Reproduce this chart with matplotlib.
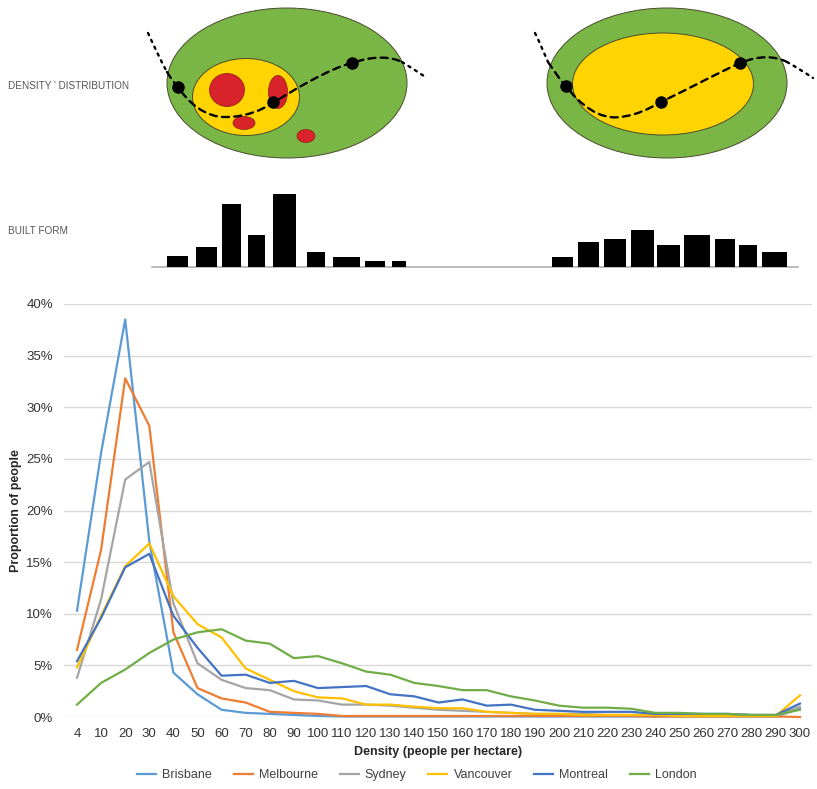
import matplotlib
matplotlib.use("Agg")
import matplotlib.pyplot as plt
from matplotlib.patches import Ellipse
from matplotlib.path import Path
from matplotlib.patches import PathPatch
from matplotlib.ticker import PercentFormatter

plt.rcParams['font.family'] = ['Liberation Sans', 'DejaVu Sans']

# density bins (people per hectare)
density = ['4', '10', '20', '30', '40', '50', '60', '70', '80', '90', '100',
           '110', '120', '130', '140', '150', '160', '170', '180', '190', '200',
           '210', '220', '230', '240', '250', '260', '270', '280', '290', '300']

# proportion of people, %
brisbane = [10.3, 25.6, 38.5, 17.0, 4.3, 2.2, 0.7, 0.4, 0.3, 0.2, 0.1,
            0.05, 0.05, 0.05, 0.05, 0.05, 0.05, 0.05, 0.05, 0.05, 0.05,
            0.05, 0.05, 0.05, 0.05, 0.05, 0.05, 0.05, 0.05, 0.05, 0.8]
melbourne = [6.5, 16.2, 32.8, 28.2, 8.2, 2.8, 1.8, 1.4, 0.5, 0.4, 0.3,
             0.1, 0.1, 0.1, 0.1, 0.1, 0.1, 0.1, 0.1, 0.1, 0.1,
             0.1, 0.1, 0.1, 0.05, 0.05, 0.05, 0.05, 0.05, 0.05, 0.0]
sydney = [3.8, 11.4, 23.0, 24.7, 11.0, 5.2, 3.6, 2.8, 2.6, 1.7, 1.6,
          1.2, 1.2, 1.1, 0.9, 0.7, 0.6, 0.5, 0.4, 0.3, 0.3,
          0.3, 0.2, 0.2, 0.2, 0.2, 0.1, 0.1, 0.1, 0.1, 1.0]
vancouver = [4.8, 9.8, 14.6, 16.8, 11.7, 9.0, 7.7, 4.7, 3.6, 2.5, 1.9,
             1.8, 1.2, 1.2, 1.0, 0.85, 0.85, 0.5, 0.4, 0.3, 0.3,
             0.2, 0.2, 0.2, 0.2, 0.1, 0.1, 0.1, 0.1, 0.1, 2.1]
montreal = [5.4, 9.6, 14.5, 15.8, 9.8, 6.7, 4.0, 4.1, 3.3, 3.5, 2.8,
            2.9, 3.0, 2.2, 2.0, 1.4, 1.7, 1.1, 1.2, 0.7, 0.6,
            0.5, 0.5, 0.5, 0.3, 0.3, 0.3, 0.3, 0.2, 0.2, 1.3]
london = [1.2, 3.3, 4.6, 6.2, 7.5, 8.2, 8.5, 7.4, 7.1, 5.7, 5.9,
          5.2, 4.4, 4.1, 3.3, 3.0, 2.6, 2.6, 2.0, 1.6, 1.1,
          0.9, 0.9, 0.8, 0.4, 0.4, 0.3, 0.3, 0.2, 0.2, 0.7]

cities = ['Brisbane', 'Melbourne', 'Sydney', 'Vancouver', 'Montreal', 'London']
series = [brisbane, melbourne, sydney, vancouver, montreal, london]
colors = ['#5B9BD5', '#ED7D31', '#A5A5A5', '#FFC000', '#4472C4', '#70AD47']

# built form bars of the schematic (pixel units)
left_bar_x = [167, 196, 222, 248, 273, 307, 333, 365, 392]
left_bar_w = [21, 21, 19, 17, 23, 18, 27, 20, 14]
left_bar_h = [11, 20, 63, 32, 73, 15, 10, 6, 6]
right_bar_x = [552, 578, 604, 631, 657, 684, 715, 739, 762]
right_bar_w = [21, 21, 22, 23, 23, 26, 20, 18, 25]
right_bar_h = [10, 25, 28, 37, 22, 32, 28, 22, 15]

W, H = 817, 789
fig = plt.figure(figsize=(W / 100, H / 100), dpi=100)

# schematic, drawn in pixel coordinates
sk = fig.add_axes([0, 0, 1, 1])
sk.set_xlim(0, W)
sk.set_ylim(H, 0)
sk.axis('off')

green = '#7AB646'
yellow = '#FFD400'
red = '#D9232A'
edge = '#4a4a30'

sk.add_patch(Ellipse((287, 83), 240, 150, fc=green, ec=edge, lw=0.7))
sk.add_patch(Ellipse((246, 97), 107, 77, fc=yellow, ec=edge, lw=0.7))
sk.add_patch(Ellipse((227, 90), 35, 33, fc=red, ec='#8a1a1a', lw=0.5))
sk.add_patch(Ellipse((278, 92), 19, 33, fc=red, ec='#8a1a1a', lw=0.5))
sk.add_patch(Ellipse((244, 123), 22, 13, fc=red, ec='#8a1a1a', lw=0.5))
sk.add_patch(Ellipse((306, 136), 18, 13, fc=red, ec='#8a1a1a', lw=0.5))

sk.add_patch(Ellipse((667, 83), 240, 150, fc=green, ec=edge, lw=0.7))
sk.add_patch(Ellipse((663, 84), 181, 102, fc=yellow, ec=edge, lw=0.7))


def curve(verts, style, lw):
    codes = [Path.MOVETO] + [Path.CURVE4] * (len(verts) - 1)
    sk.add_patch(PathPatch(Path(verts, codes), fc='none', ec='black',
                           lw=lw, ls=style, capstyle='round'))


dot_style = (0, (1, 2.2))
dash_style = (0, (3, 2.2))

# left curve
curve([(148, 33), (154, 46), (160, 59), (167, 72)], dot_style, 1.7)
curve([(167, 72), (172, 80), (175, 84), (178, 87),
       (188, 102), (205, 118), (227, 117),
       (245, 117), (262, 110), (273, 103),
       (290, 92), (330, 68), (352, 63),
       (375, 55), (392, 57), (402, 62)], dash_style, 1.7)
curve([(402, 62), (410, 67), (418, 72), (427, 78)], dot_style, 1.7)

# right curve
curve([(535, 33), (540, 43), (544, 53), (548, 62)], dot_style, 1.7)
curve([(548, 62), (555, 72), (560, 80), (566, 86),
       (580, 105), (600, 120), (620, 117),
       (638, 115), (650, 108), (661, 102),
       (690, 88), (720, 72), (740, 63),
       (760, 55), (775, 56), (787, 62)], dash_style, 1.7)
curve([(787, 62), (796, 67), (804, 72), (813, 78)], dot_style, 1.7)

for (cx, cy) in [(178, 87), (273, 102), (352, 63),
                 (566, 86), (661, 102), (740, 63)]:
    sk.plot(cx, cy, 'o', color='black', ms=8, zorder=5)

# built form bars
base = 267
sk.plot([152, 798], [base, base], color='#b0b0b0', lw=1.2, zorder=1)
sk.bar(left_bar_x, [-h for h in left_bar_h], width=left_bar_w, bottom=base,
       align='edge', color='black', zorder=2)
sk.bar(right_bar_x, [-h for h in right_bar_h], width=right_bar_w, bottom=base,
       align='edge', color='black', zorder=2)

sk.text(8, 86, "DENSITY ' DISTRIBUTION", fontsize=7.2, color='#555555',
        va='center', ha='left')
sk.text(8, 231, "BUILT FORM", fontsize=7.2, color='#555555',
        va='center', ha='left')

# main chart
ax = fig.add_axes([64 / W, 1 - 717 / H, (812 - 64) / W, (717 - 304) / H])
x = list(range(len(density)))
for name, vals, c in zip(cities, series, colors):
    ax.plot(x, vals, color=c, lw=1.6, label=name, clip_on=False)

ax.set_xlim(-0.54, 30.5)
ax.set_ylim(0, 40)
ax.set_yticks(range(0, 41, 5))
ax.yaxis.set_major_formatter(PercentFormatter(xmax=100, decimals=0))
ax.set_xticks(x)
ax.set_xticklabels(density)
for s in ax.spines.values():
    s.set_visible(False)
ax.grid(axis='y', color='#d9d9d9', lw=1)
ax.set_axisbelow(True)
ax.tick_params(length=0, labelsize=9.5, colors='#333333')
ax.tick_params(axis='x', pad=8)
ax.tick_params(axis='y', pad=8)
ax.set_xlabel('Density (people per hectare)', fontsize=9, fontweight='bold',
              color='#262626', labelpad=4)
ax.set_ylabel('Proportion of people', fontsize=9, fontweight='bold',
              color='#262626', labelpad=3)

fig.legend(loc='center', bbox_to_anchor=(417 / W, 1 - 775 / H), ncol=6,
           frameon=False, fontsize=9, handlelength=1.5, columnspacing=1.75,
           handletextpad=0.5, labelcolor='#404040')

fig.savefig('out.png', dpi=100)
